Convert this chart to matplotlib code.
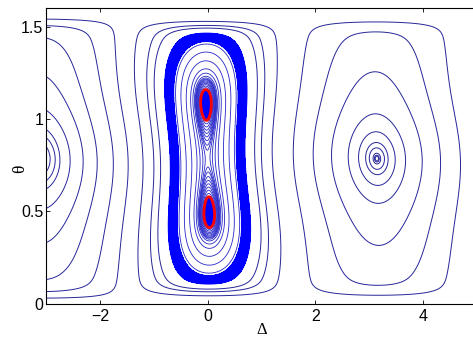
import numpy as np
import matplotlib
matplotlib.use('Agg')
import matplotlib.pyplot as plt

# ----------------------
# invariant of the two-mode system (theta: mixing angle, delta: phase difference)
# ----------------------
p_coup = 0.30    # exponent of the coupling term
s_edge = 0.12    # coupling switches off below this value of sin(2 theta)
a_in = 0.17      # nonlinear term near delta = 0
n_in = 2.9
a_out = 0.20     # nonlinear term near delta = pi
n_out = 6
b_skew = 0.06    # small antisymmetric term, tilts the two lobes


def invariant(theta, delta):
    s = np.clip(np.sin(2 * theta), 0, None)
    coup = s ** p_coup * (1 - np.exp(-(s / s_edge) ** 2))
    c = np.cos(delta)
    return (coup * c - a_in * s ** n_in * (1 + c) / 2
            - a_out * s ** n_out * (1 - c) / 2
            + b_skew * s * np.cos(2 * theta) * np.sin(delta))


# level values of the drawn orbits
right_levels = [-1.1995, -1.199, -1.1975, -1.190, -1.178, -1.142, -1.060,
                -0.862, -0.571, -0.206]
left_levels = [-1.176, -1.151, -1.120, -1.029, -0.870, -0.654, -0.368, -0.09]
outer_levels = [0.182, 0.363, 0.465]
band_range = [0.595, 0.688]
inner_levels = [0.706, 0.75, 0.786, 0.81, 0.82, 0.826, 0.829]
lobe_levels = [0.8308, 0.832, 0.8335, 0.835, 0.8365, 0.838, 0.8395, 0.841]
red_level = 0.8425

xticks = [-2, 0, 2, 4]
yticks = [0, 0.5, 1, 1.5]
ytick_labels = ['0', '0.5', '1', '1.5']

line_dark = '#26269a'
line_mid = '#2626c8'
fill_blue = '#0000ff'

fig = plt.figure(figsize=(4.73, 3.38), dpi=100)
ax = fig.add_axes([46 / 473, 34.5 / 338, 431 / 473, 295.2 / 338])

th = np.linspace(0, np.pi / 2, 900)

# side cells (left and right of the central region)
dl_left = np.linspace(-3.4, 0, 900)
D, T = np.meshgrid(dl_left, th)
ax.contour(D, T, invariant(T, D), levels=left_levels, colors=line_dark,
           linewidths=0.7, linestyles='solid')

dl_right = np.linspace(0, 5.2, 1300)
D, T = np.meshgrid(dl_right, th)
ax.contour(D, T, invariant(T, D), levels=right_levels, colors=line_dark,
           linewidths=0.7, linestyles='solid')

# central region: outer orbits, dense band, orbits round the two lobes
dl_mid = np.linspace(-1.9, 1.9, 1400)
D, T = np.meshgrid(dl_mid, th)
F = invariant(T, D)
ax.contour(D, T, F, levels=outer_levels, colors=line_dark, linewidths=0.7,
           linestyles='solid')
ax.contourf(D, T, F, levels=band_range, colors=[fill_blue])
ax.contour(D, T, F, levels=band_range, colors=fill_blue, linewidths=0.8,
           linestyles='solid')
ax.contour(D, T, F, levels=inner_levels, colors=line_mid, linewidths=0.6,
           linestyles='solid')
ax.contour(D, T, F, levels=lobe_levels, colors=line_mid, linewidths=0.6,
           linestyles='solid')
ax.contourf(D, T, F, levels=[red_level, 2.0], colors=[fill_blue])
ax.contour(D, T, F, levels=[red_level], colors='#ff0000', linewidths=2.0,
           linestyles='solid')

ax.set_xlim(-3, 5)
ax.set_ylim(0, 1.6)
ax.set_xticks(xticks)
ax.set_yticks(yticks)
ax.set_yticklabels(ytick_labels)
ax.tick_params(direction='in', length=3, width=0.6, top=True, right=True,
               labelsize=11.5, pad=4)
ax.tick_params(axis='y', pad=2)
for lab in ax.get_xticklabels() + ax.get_yticklabels():
    lab.set_family(['Liberation Sans', 'DejaVu Sans'])
for sp in ax.spines.values():
    sp.set_linewidth(0.8)

ax.text(0.501, -0.089, '\u0394', transform=ax.transAxes, ha='center',
        va='center', fontsize=12, family=['Liberation Serif', 'DejaVu Serif'])
ax.text(-0.060, 0.456, '\u03b8', transform=ax.transAxes, ha='center',
        va='center', fontsize=12.5, rotation=90,
        family=['Liberation Serif', 'DejaVu Serif'])

fig.savefig('out.png', dpi=100)
